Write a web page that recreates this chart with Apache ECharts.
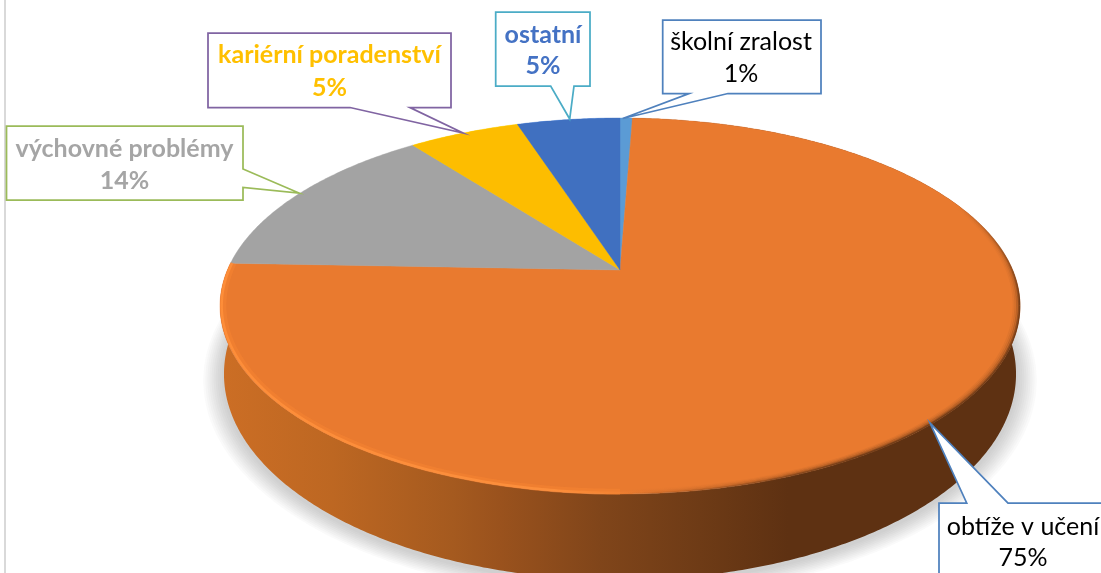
<!DOCTYPE html>
<html><head><meta charset="utf-8">
<script src="https://cdn.jsdelivr.net/npm/echarts@6/dist/echarts.min.js"></script>
<style>html,body{margin:0;padding:0;background:#fff}#c{width:1101px;height:573px}</style>
</head><body><div id="c"></div>
<script>
// DATA
var categories = ['školní zralost','obtíže v učení','výchovné problémy','kariérní poradenství','ostatní'];
var values = [0.6, 75, 14, 5.4, 5];
var percentLabels = ['1%','75%','14%','5%','5%'];

// STYLE / LAYOUT
var sliceColors = ['#5b9bd5','#e97a2f','#a3a3a3','#fdbd00','#4070c0'];
var textColors = ['#000000','#000000','#a5a5a5','#ffc000','#4472c4'];
var textBold = [false,false,true,true,true];
var borderColors = ['#4f81bd','#4f81bd','#9bbb59','#8064a2','#4bacc6'];
var callouts = [
  {box:[662.7,20,821,93.5], tail:[[728,93.5],[622.7,118.5],[689,93.5]], side:'b', text:[741,42,74]},
  {box:[939,503,1115,590], tail:[[966.7,503],[930,423],[1008,503]], side:'t', text:[1023,527,558]},
  {box:[6.5,126,243,200], tail:[[243,169],[299,193],[243,187.5]], side:'r', text:[124.5,149,181]},
  {box:[208,33,451,107.5], tail:[[410,107.5],[463,133],[350,107.5]], side:'b', text:[329.5,55,88]},
  {box:[495.7,12,590,86], tail:[[574,86],[569.7,119],[550.7,86]], side:'b', text:[543,35,66]}
];
var total = values.reduce(function(a,b){return a+b;},0);
var K = 0.1915;
var topGeo = {cx:620, y0:270, A:392.6, B:181.1};
var botGeo = {cx:620, y0:334.6, A:388.7, B:198.4};
var shadowGeo = {cx:620, y0:337, A:388.7, B:198.4};
var shadowSteps = [1.05,1.045,1.04,1.035,1.03,1.025,1.02,1.015,1.01,1.005];
function proj(g, f, r){
  var t = f*2*Math.PI, u = r*Math.sin(t), v = r*Math.cos(t), d = 1+K*v;
  return [g.cx + g.A*u/d, g.y0 - g.B*v/d];
}
function arc(g, f0, f1, r){
  var n = Math.max(2, Math.ceil(Math.abs(f1-f0)*720)), pts=[];
  for(var i=0;i<=n;i++){ pts.push(proj(g, f0+(f1-f0)*i/n, r)); }
  return pts;
}
function range(i){
  var s=0; for(var j=0;j<i;j++) s+=values[j];
  return [s/total,(s+values[i])/total];
}
var wallGrad = new echarts.graphic.LinearGradient(220,0,1020,0,[
  {offset:0,color:'#cc6e25'},{offset:0.14,color:'#bd6722'},{offset:0.29,color:'#a55a1f'},
  {offset:0.35,color:'#9a521d'},{offset:0.475,color:'#80451a'},{offset:0.6,color:'#6e3b16'},
  {offset:0.71,color:'#5e3112'},{offset:1,color:'#5e3112'}],true);
var hiGrad = new echarts.graphic.LinearGradient(220,0,1020,0,[
  {offset:0,color:'rgba(255,143,58,0.9)'},{offset:0.42,color:'rgba(255,146,62,0.8)'},
  {offset:0.5,color:'rgba(255,143,58,0.2)'},{offset:0.56,color:'rgba(255,143,58,0)'},{offset:1,color:'rgba(255,143,58,0)'}],true);
var darkGrad = function(a){ return new echarts.graphic.LinearGradient(220,0,1020,0,[
  {offset:0,color:'rgba(94,49,18,0)'},{offset:0.5,color:'rgba(94,49,18,0)'},
  {offset:0.8,color:'rgba(94,49,18,'+a+')'},{offset:1,color:'rgba(94,49,18,'+a+')'}],true); };
var darkFade = function(a){ return new echarts.graphic.LinearGradient(0,205,0,300,[
  {offset:0,color:'rgba(94,49,18,0)'},{offset:1,color:'rgba(94,49,18,'+a+')'}],true); };

function renderWall(params, api){
  var i = params.dataIndex, rg = range(i), ch = [];
  var main = i===1;
  if(main){
    shadowSteps.forEach(function(r){
      ch.push({type:'polygon',silent:true,shape:{points:arc(shadowGeo,0,1,r)},style:{fill:'rgba(95,95,90,0.03)'}});
    });
  }
  var pts = arc(topGeo, rg[0], rg[1], 1).concat(arc(botGeo, rg[1], rg[0], 1));
  ch.push({type:'polygon', shape:{points:pts}, silent:true, style:{
    fill: main ? wallGrad : echarts.color.lift(sliceColors[i],-0.4)}});
  return {type:'group',children:ch};
}
function renderTop(params, api){
  var i = params.dataIndex, rg = range(i);
  var pts = [[topGeo.cx, topGeo.y0]].concat(arc(topGeo, rg[0], rg[1], 1));
  return {type:'polygon', shape:{points:pts}, silent:true, style:{fill:sliceColors[i],stroke:sliceColors[i],lineWidth:0.4}};
}
function renderBevel(params, api){
  var i = params.dataIndex;
  if(i!==1) return {type:'group',children:[]};
  var rg = range(i), ch=[];
  var end = rg[1];
  function line(f0,f1,r,w,stroke){ ch.push({type:'polyline',silent:true,shape:{points:arc(topGeo,f0,f1,r)},style:{fill:null,stroke:stroke,lineWidth:w,lineCap:'butt'}}); }
  line(0.5,end,0.992,6,'rgba(249,134,51,0.45)');
  line(0.35,end,0.996,2.5,hiGrad);
  [[0.999,1.5,0.8],[0.996,1.5,0.55],[0.992,1.5,0.32],[0.988,1.5,0.16],[0.984,1.5,0.07]].forEach(function(s){
    line(0.19,0.28,s[0],s[1],darkFade(s[2]));
    line(0.28,0.5,s[0],s[1],darkGrad(s[2]));
  });
  return {type:'group',children:ch};
}
function renderCallout(params, api){
  var i = params.dataIndex, c = callouts[i], b = c.box, t = c.tail, p;
  var x0=b[0],y0=b[1],x1=b[2],y1=b[3];
  if(c.side==='b') p=[[x0,y0],[x1,y0],[x1,y1]].concat(t).concat([[x0,y1]]);
  else if(c.side==='r') p=[[x0,y0],[x1,y0]].concat([[x1,t[0][1]],t[1],[x1,t[2][1]]]).concat([[x1,y1],[x0,y1]]);
  else p=[[x0,y0]].concat(t).concat([[x1,y0],[x1,y1],[x0,y1]]);
  var font = (textBold[i]?'bold ':'')+'25px Lato';
  return {type:'group',silent:true,children:[
    {type:'polygon',shape:{points:p},style:{fill:'#fff',stroke:borderColors[i],lineWidth:1.75,lineJoin:'miter'}},
    {type:'text',style:{text:categories[i],x:c.text[0],y:c.text[1],align:'center',verticalAlign:'middle',font:font,fill:textColors[i]}},
    {type:'text',style:{text:percentLabels[i],x:c.text[0],y:c.text[2],align:'center',verticalAlign:'middle',font:font,fill:textColors[i]}}
  ]};
}
var seriesData = values.map(function(v,i){return {name:categories[i],value:[v]};});
var chart = echarts.init(document.getElementById('c'),null,{renderer:'canvas'});
chart.setOption({
  animation:false, backgroundColor:'#fff',
  graphic:[{type:'rect',silent:true,z:0,shape:{x:4,y:0,width:2,height:573},style:{fill:'#d9d9d9'}}],
  series:[
    {type:'custom',coordinateSystem:'none',z:1,data:seriesData,renderItem:renderWall,silent:true},
    {type:'custom',coordinateSystem:'none',z:2,data:seriesData,renderItem:renderTop,silent:true},
    {type:'custom',coordinateSystem:'none',z:3,data:seriesData,renderItem:renderBevel,silent:true},
    {type:'custom',coordinateSystem:'none',z:4,data:seriesData,renderItem:renderCallout,silent:true}
  ]
});
</script></body></html>
